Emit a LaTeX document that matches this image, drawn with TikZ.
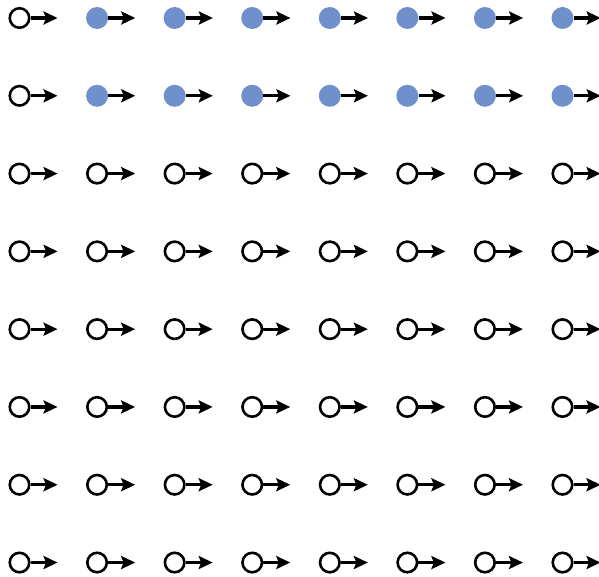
\documentclass[tikz,border=0pt]{standalone}
\usetikzlibrary{arrows.meta}
\definecolor{dotblue}{HTML}{7090CB}
\begin{document}
\begin{tikzpicture}[x=1pt,y=-1pt,
  ring/.style={circle,draw=black,line width=2.6pt,fill=white,minimum size=19.5pt,inner sep=0pt},
  dot/.style={circle,fill=dotblue,draw=none,minimum size=22pt,inner sep=0pt},
  vec/.style={line width=3.2pt,-{Stealth[length=14pt,width=13pt,inset=2.5pt]}}]
\useasboundingbox (0,0) rectangle (599,577);
\foreach \r in {0,...,7}{
  \foreach \c in {0,...,7}{
    \pgfmathsetmacro{\px}{19.5+77.57*\c}
    \pgfmathsetmacro{\py}{18+77.79*\r}
    \pgfmathtruncatemacro{\isdot}{(\r<2 && \c>0) ? 1 : 0}
    \ifnum\isdot=1
      \node[dot] (n-\r-\c) at (\px,\py) {};
    \else
      \node[ring] (n-\r-\c) at (\px,\py) {};
    \fi
    \coordinate (t-\r-\c) at ([xshift=27pt]n-\r-\c.east);
    \draw[vec] (n-\r-\c.east) -- (t-\r-\c);
  }
}
\end{tikzpicture}
\end{document}
